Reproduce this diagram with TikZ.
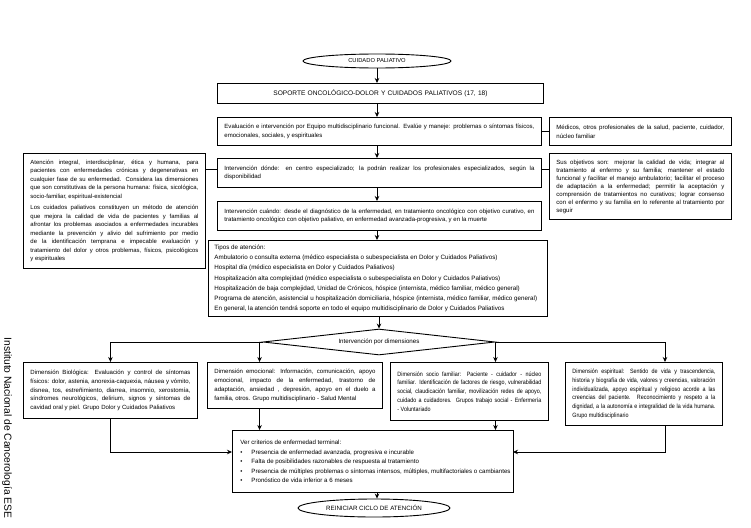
\documentclass[tikz,border=0pt]{standalone}
\usepackage{fontspec}
\setmainfont{Liberation Sans}
\newfontfamily\cond{Liberation Sans}[FakeStretch=0.87]
\usetikzlibrary{arrows.meta,shapes.geometric}
\newcommand{\nohyph}{\hyphenpenalty=10000\exhyphenpenalty=10000\tolerance=9000\emergencystretch=4pt}
\newcommand{\bul}{\hspace*{6pt}\makebox[11pt][l]{•}}
\newcommand{\lb}{\linebreak}
\begin{document}
\begin{tikzpicture}[x=1pt,y=-1pt,
  every node/.style={font=\rmfamily\fontsize{6.05}{8.8}\selectfont\nohyph, inner sep=0pt},
  bx/.style={draw, line width=0.9pt, anchor=north west, inner xsep=7pt, inner ysep=3pt, align=justify},
  narrowtext/.style={font=\cond\fontsize{6.2}{8.8}\selectfont\nohyph},
  ov/.style={draw, line width=0.9pt, ellipse, inner sep=0pt},
  arr/.style={line width=0.8pt, -{Stealth[length=5pt,width=4.5pt]}},
  ln/.style={line width=0.8pt}]
\useasboundingbox (0,0) rectangle (751,527);

% top ellipse
\node[ov, minimum width=148pt, minimum height=14pt, font=\rmfamily\fontsize{5.8}{7}\selectfont] (e1) at (377,61) {CUIDADO PALIATIVO};

\node[bx, minimum width=326pt, minimum height=20pt, text width=312pt, align=center, font=\rmfamily\fontsize{6.6}{8}\selectfont] (sop) at (217,83)
  {SOPORTE ONCOLÓGICO-DOLOR Y CUIDADOS PALIATIVOS (17, 18)};

\node[bx, minimum width=324pt, minimum height=28pt, text width=310pt] (eva) at (217,117)
  {Evaluación e intervención por Equipo multidisciplinario funcional. Evalúe y maneje: problemas o síntomas físicos,\lb
   emocionales, sociales, y espirituales};

\node[bx, minimum width=182pt, minimum height=28pt, text width=168pt] (med) at (549,117)
  {Médicos, otros profesionales de la salud, paciente, cuidador,\lb
   núcleo familiar};

\node[bx, minimum width=324pt, minimum height=29pt, text width=310pt] (don) at (217,158)
  {Intervención dónde: en centro especializado; la podrán realizar los profesionales especializados, según la\lb
   disponibilidad};

\node[bx, minimum width=182pt, minimum height=66pt, text width=168pt, font=\rmfamily\fontsize{6.05}{8}\selectfont\nohyph] (obj) at (549,153)
  {Sus objetivos son: mejorar la calidad de vida; integrar al\lb
   tratamiento al enfermo y su familia; mantener el estado\lb
   funcional y facilitar el manejo ambulatorio; facilitar el proceso\lb
   de adaptación a la enfermedad; permitir la aceptación y\lb
   comprensión de tratamientos no curativos; lograr consenso\lb
   con el enfermo y su familia en lo referente al tratamiento por\lb
   seguir};

\node[bx, minimum width=182pt, minimum height=115pt, text width=168pt, font=\rmfamily\fontsize{5.95}{8.5}\selectfont\nohyph] (lft) at (23,153)
  {Atención integral, interdisciplinar, ética y humana, para\lb
   pacientes con enfermedades crónicas y degenerativas en\lb
   cualquier fase de su enfermedad. Considera las dimensiones\lb
   que son constitutivas de la persona humana: física, sicológica,\lb
   socio-familiar, espiritual-existencial\par\vspace{3pt}
   Los cuidados paliativos constituyen un método de atención\lb
   que mejora la calidad de vida de pacientes y familias al\lb
   afrontar los problemas asociados a enfermedades incurables\lb
   mediante la prevención y alivio del sufrimiento por medio\lb
   de la identificación temprana e impecable evaluación y\lb
   tratamiento del dolor y otros problemas, físicos, psicológicos\lb
   y espirituales};

\node[bx, minimum width=324pt, minimum height=29pt, text width=310pt] (cua) at (217,201)
  {Intervención cuándo: desde el diagnóstico de la enfermedad, en tratamiento oncológico con objetivo curativo, en\lb
   tratamiento oncológico con objetivo paliativo, en enfermedad avanzada-progresiva, y en la muerte};

\node[bx, minimum width=339pt, minimum height=76pt, text width=331pt, inner xsep=4pt, font=\rmfamily\fontsize{6.25}{10.2}\selectfont\nohyph] (tip) at (208,240)
  {\hspace*{2pt}Tipos de atención:\\
   \hspace*{2pt}Ambulatorio o consulta externa (médico especialista o subespecialista en Dolor y Cuidados Paliativos)\\
   \hspace*{2pt}Hospital día (médico especialista en Dolor y Cuidados Paliativos)\\
   \hspace*{2pt}Hospitalización alta complejidad (médico especialista o subespecialista en Dolor y Cuidados Paliativos)\\
   \hspace*{2pt}Hospitalización de baja complejidad, Unidad de Crónicos, hóspice (internista, médico familiar, médico general)\\
   \hspace*{2pt}Programa de atención, asistencial u hospitalización domiciliaria, hóspice (internista, médico familiar, médico general)\\
   \hspace*{2pt}En general, la atención tendrá soporte en todo el equipo multidisciplinario de Dolor y Cuidados Paliativos};

\node[draw, line width=0.9pt, diamond, aspect=10, minimum width=232pt, minimum height=26pt, inner sep=0pt, font=\rmfamily\fontsize{6.2}{8}\selectfont] (dia) at (379,342)
  {Intervención por dimensiones};

\node[bx, minimum width=174pt, minimum height=56pt, text width=160pt] (bio) at (23,362)
  {Dimensión Biológica: Evaluación y control de síntomas\lb
   físicos: dolor, astenia, anorexia-caquexia, náusea y vómito,\lb
   disnea, tos, estreñimiento, diarrea, insomnio, xerostomía,\lb
   síndromes neurológicos, delirium, signos y síntomas de\lb
   cavidad oral y piel. Grupo Dolor y Cuidados Paliativos};

\node[bx, minimum width=175pt, minimum height=46pt, text width=161pt] (emo) at (207,362)
  {Dimensión emocional: Información, comunicación, apoyo\lb
   emocional, impacto de la enfermedad, trastorno de\lb
   adaptación, ansiedad , depresión, apoyo en el duelo a\lb
   familia, otros. Grupo multidisciplinario - Salud Mental};

\node[bx, narrowtext, minimum width=158pt, minimum height=58pt, text width=144pt] (soc) at (390,362)
  {Dimensión socio familiar: Paciente - cuidador - núcleo\lb
   familiar. Identificación de factores de riesgo, vulnerabilidad\lb
   social, claudicación familiar, movilización redes de apoyo,\lb
   cuidado a cuidadores. Grupos trabajo social - Enfermería\lb
   - Voluntariado};

\node[bx, narrowtext, minimum width=157pt, minimum height=63pt, text width=143pt] (esp) at (565,362)
  {Dimensión espiritual: Sentido de vida y trascendencia,\lb
   historia y biografía de vida, valores y creencias, valoración\lb
   individualizada, apoyo espiritual y religioso acorde a las\lb
   creencias del paciente. Reconocimiento y respeto a la\lb
   dignidad, a la autonomía e integralidad de la vida humana.\lb
   Grupo multidisciplinario};

\node[bx, minimum width=281pt, minimum height=62pt, text width=277pt, inner xsep=2pt, font=\rmfamily\fontsize{6.15}{9.6}\selectfont\nohyph] (ver) at (232,430)
  {\hspace*{6pt}Ver criterios de enfermedad terminal:\\
   \bul Presencia de enfermedad avanzada, progresiva e incurable\\
   \bul Falta de posibilidades razonables de respuesta al tratamiento\\
   \bul Presencia de múltiples problemas o síntomas intensos, múltiples, multifactoriales o cambiantes\\
   \bul Pronóstico de vida inferior a 6 meses};

\node[ov, minimum width=152pt, minimum height=18pt, font=\rmfamily\fontsize{6.2}{8}\selectfont] (e2) at (374,508) {REINICIAR CICLO DE ATENCIÓN};

\node[rotate=-90, font=\rmfamily\fontsize{10.3}{12}\selectfont] (inst) at (7,428) {Instituto Nacional de Cancerología ESE};

% column of arrows
\coordinate (col) at (377,0);
\draw[arr] (e1.south) -- (e1.south |- sop.north);
\draw[arr] (sop.south -| col) -- (eva.north -| col);
\draw[arr] (eva.south -| col) -- (don.north -| col);
\draw[arr] (don.south -| col) -- (cua.north -| col);
\draw[arr] (cua.south -| col) -- (tip.north -| col);
\draw[arr] (tip.south -| dia.north) -- (dia.north);

% side links
\draw[ln] (eva.east) -- (eva.east -| med.west);
\draw[ln] ([yshift=4pt]don.east) -- ([yshift=4pt]don.east -| obj.west);
\draw[ln] ([yshift=4pt]don.west) -- ([yshift=4pt]don.west -| lft.east);

% diamond branches
\coordinate (bl) at (bio.north |- dia.west);
\coordinate (el) at ([xshift=-3pt]dia.west);
\coordinate (sr) at (665,342);
\draw[ln] (dia.west) -- (bl);
\draw[arr] (bl) -- (bio.north);
\draw[arr] (el) -- (el |- emo.north);
\draw[ln] (dia.east) -- (sr);
\draw[arr] (dia.east) -- (dia.east |- soc.north);
\draw[arr] (sr) -- (sr |- esp.north);

% into criteria box
\coordinate (vl) at (232,452);
\coordinate (vr) at (513,452);
\draw[arr] (emo.south -| el) -- (ver.north -| el);
\draw[arr] (soc.south -| dia.east) -- (ver.north -| dia.east);
\draw[arr] (bio.south) -- (bio.south |- vl) -- (vl);
\draw[arr] (esp.south -| sr) -- (sr |- vr) -- (vr);
\draw[arr] (ver.south -| col) -- (e2.north -| col);
\end{tikzpicture}
\end{document}
